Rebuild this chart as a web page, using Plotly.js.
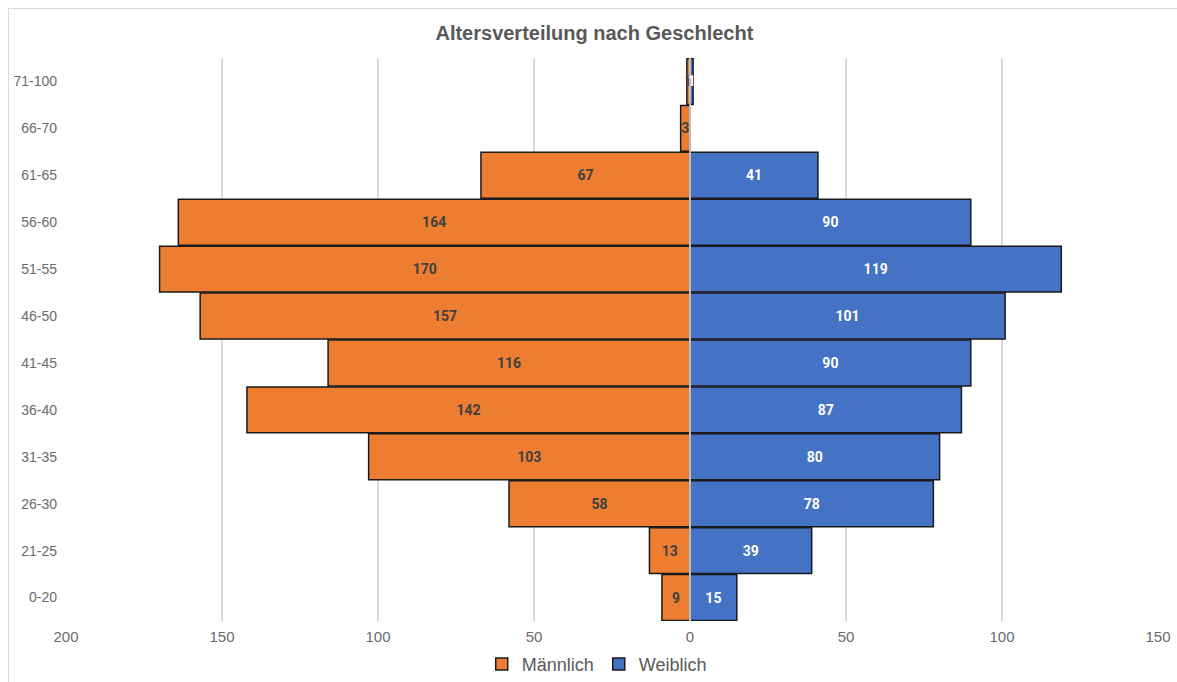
<!DOCTYPE html>
<html>
<head>
<meta charset="utf-8">
<script src="https://cdn.plot.ly/plotly-3.0.1.min.js"></script>
<style>
html,body{margin:0;padding:0;background:#fff;}
#frame{position:absolute;left:8px;top:8px;width:1200px;height:700px;border-left:1px solid #d9d9d9;border-top:1px solid #d9d9d9;}
#chart{position:absolute;left:0;top:0;width:1177px;height:682px;}
</style>
</head>
<body>
<div id="frame"></div>
<div id="chart"></div>
<script>
const categories = ["0-20","21-25","26-30","31-35","36-40","41-45","46-50","51-55","56-60","61-65","66-70","71-100"];
const maennlich = [9,13,58,103,142,116,157,170,164,67,3,1];
const weiblich  = [15,39,78,80,87,90,101,119,90,41,0,1];
const tickVals = [-200,-150,-100,-50,0,50,100,150];
const tickText = ["200","150","100","50","0","50","100","150"];

const maleX = maennlich.map(v => -v);

const traces = [
  {
    type: 'bar', orientation: 'h', name: 'Männlich',
    y: categories, x: maleX,
    text: maennlich.map(String),
    textposition: 'inside', insidetextanchor: 'middle',
    textfont: {family: 'Roboto, DejaVu Sans, sans-serif', size: 14, color: '#404040', weight: 'bold'},
    marker: {color: '#ED7D31', line: {color: '#1a1a1a', width: 1.5}},
    hoverinfo: 'skip'
  },
  {
    type: 'bar', orientation: 'h', name: 'Weiblich',
    y: categories, x: weiblich,
    text: weiblich.map(String),
    textposition: 'inside', insidetextanchor: 'middle',
    textfont: {family: 'Roboto, DejaVu Sans, sans-serif', size: 14, color: '#ffffff', weight: 'bold'},
    marker: {color: '#4472C4', line: {color: '#1a1a1a', width: 1.5}},
    hoverinfo: 'skip'
  }
];

const layout = {
  width: 1177, height: 682,
  paper_bgcolor: 'rgba(0,0,0,0)', plot_bgcolor: 'rgba(0,0,0,0)',
  margin: {l: 66, r: 19, t: 58, b: 61, autoexpand: false},
  barmode: 'overlay', bargap: 0.02,
  title: {text: 'Altersverteilung nach Geschlecht', x: 0.505, xanchor: 'center', y: 0.952, yanchor: 'middle',
          font: {family: 'Liberation Sans, Arial, sans-serif', size: 20, color: '#595959', weight: 'bold'}},
  font: {family: 'Liberation Sans, Arial, sans-serif', color: '#595959'},
  xaxis: {
    range: [-200, 150], tickvals: tickVals, ticktext: tickText, automargin: false,
    showgrid: true, gridcolor: '#d9d9d9', gridwidth: 1.2, zeroline: false,
    showline: false, ticks: '', ticklabelstandoff: 5,
    tickfont: {size: 15, color: '#6b6b6b'}, fixedrange: true
  },
  yaxis: {
    type: 'category', categoryorder: 'array', categoryarray: categories, automargin: false,
    showgrid: false, zeroline: false, showline: false, ticks: '',
    ticklabelstandoff: 8,
    tickfont: {size: 14, color: '#6b6b6b'}, fixedrange: true
  },
  uniformtext: {minsize: 13, mode: 'show'},
  shapes: [{type: 'line', xref: 'x', yref: 'paper', x0: 0, x1: 0, y0: 0, y1: 1,
            line: {color: '#f0f0f0', width: 1.5}, layer: 'above'}],
  legend: {orientation: 'h', x: 0.486, xanchor: 'center', y: -0.044, yanchor: 'top',
           font: {size: 18, color: '#595959'}, itemwidth: 30, tracegroupgap: 0},
  showlegend: true
};

Plotly.newPlot('chart', traces, layout, {displayModeBar: false, staticPlot: true});
</script>
</body>
</html>
